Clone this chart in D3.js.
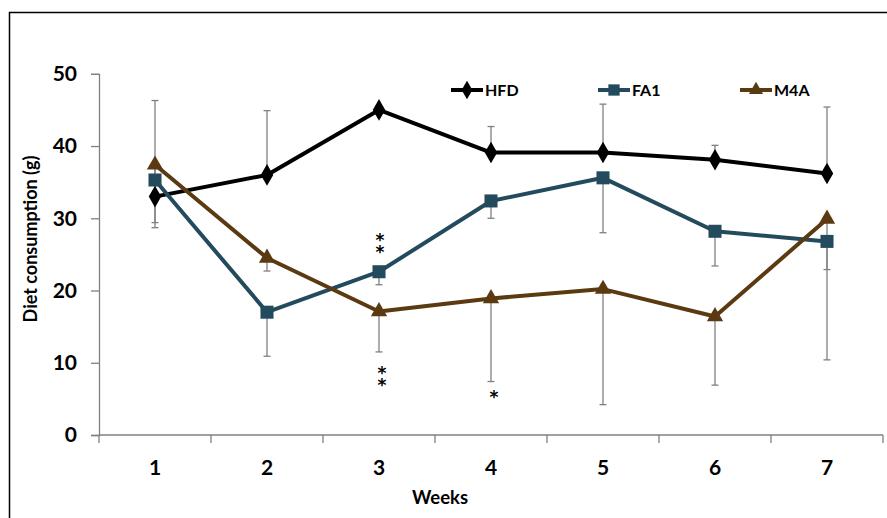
<!DOCTYPE html>
<html>
<head>
<meta charset="utf-8">
<script src="https://cdn.jsdelivr.net/npm/d3@7"></script>
<style>
body { margin: 0; background: #fff; }
text { font-family: Lato, "Open Sans", sans-serif; font-weight: bold; fill: #000; }
</style>
</head>
<body>
<script>
// data
var weeks = ['1', '2', '3', '4', '5', '6', '7'];
var yTicks = [0, 10, 20, 30, 40, 50];

var hfd = [33.0, 36.0, 45.0, 39.1, 39.1, 38.1, 36.2];
var fa1 = [35.3, 17.0, 22.6, 32.4, 35.6, 28.2, 26.8];
var m4a = [37.4, 24.5, 17.1, 18.9, 20.2, 16.4, 29.9];

// one-sided SD bars: HFD up, FA1 and M4A down
var hfdErr = [13.3, 8.9, 0, 3.6, 6.7, 2.0, 9.2];
var fa1Err = [5.9, 6.1, 1.8, 2.4, 7.6, 4.8, 3.9];
var m4aErr = [8.7, 1.8, 5.6, 11.5, 16.0, 9.5, 19.5];

// significance marks
var fa1Sig = [{ week: '3', label: '**' }];
var m4aSig = [{ week: '3', label: '**' }, { week: '4', label: '*' }];

var series = [
  { name: 'HFD', values: hfd, err: hfdErr, dir: 1, color: '#000000', shape: 'diamond' },
  { name: 'FA1', values: fa1, err: fa1Err, dir: -1, color: '#244a5e', shape: 'square' },
  { name: 'M4A', values: m4a, err: m4aErr, dir: -1, color: '#5b3a12', shape: 'triangle' }
];

var W = 887, H = 518;
var svg = d3.select('body').append('svg')
  .attr('width', W).attr('height', H);

// outer frame (cut off at right and bottom like the source)
svg.append('rect')
  .attr('x', 9.5).attr('y', 12.5)
  .attr('width', 900).attr('height', 520)
  .attr('fill', 'none').attr('stroke', '#000').attr('stroke-width', 1.5);

var x = d3.scaleBand().domain(weeks).range([99, 883]);
var y = d3.scaleLinear().domain([0, 50]).range([435, 73.8]);
var axisColor = '#808080';

// y axis
var yAxis = svg.append('g').attr('transform', 'translate(99,0)')
  .call(d3.axisLeft(y).tickValues(yTicks).tickSize(8).tickPadding(14));
yAxis.select('.domain').attr('stroke', axisColor).attr('stroke-width', 1.3);
yAxis.selectAll('.tick line').attr('stroke', axisColor).attr('stroke-width', 1.3);
yAxis.selectAll('.tick text').style('font-size', '21px').attr('fill', '#000');

// x axis, ticks on band edges
var xAxis = svg.append('g').attr('transform', 'translate(0,435)');
xAxis.append('line')
  .attr('x1', 99).attr('x2', 883).attr('y1', 0).attr('y2', 0)
  .attr('stroke', axisColor).attr('stroke-width', 1.3);
var edges = weeks.map(function(w) { return x(w); }).concat([x.range()[1]]);
xAxis.selectAll('.edge').data(edges).enter().append('line')
  .attr('x1', function(d) { return d; }).attr('x2', function(d) { return d; })
  .attr('y1', 0).attr('y2', 8)
  .attr('stroke', axisColor).attr('stroke-width', 1.3);
xAxis.selectAll('.lbl').data(weeks).enter().append('text')
  .attr('x', function(d) { return x(d) + x.bandwidth() / 2; })
  .attr('y', 40)
  .attr('text-anchor', 'middle')
  .style('font-size', '21px')
  .text(function(d) { return d; });

// axis titles
svg.append('text')
  .attr('x', 440).attr('y', 504)
  .attr('text-anchor', 'middle')
  .style('font-size', '18.5px')
  .text('Weeks');
svg.append('text')
  .attr('transform', 'translate(37,239) rotate(-90)')
  .attr('text-anchor', 'middle')
  .style('font-size', '18px')
  .text('Diet consumption (g)');

function cx(i) { return x(weeks[i]) + x.bandwidth() / 2; }

// error bars
var bars = svg.append('g');
series.forEach(function(s) {
  s.values.forEach(function(v, i) {
    if (!s.err[i]) return;
    var end = v + s.dir * s.err[i];
    bars.append('line')
      .attr('x1', cx(i)).attr('x2', cx(i))
      .attr('y1', y(v)).attr('y2', y(end))
      .attr('stroke', axisColor).attr('stroke-width', 1.3);
    bars.append('line')
      .attr('x1', cx(i) - 3.5).attr('x2', cx(i) + 3.5)
      .attr('y1', y(end)).attr('y2', y(end))
      .attr('stroke', axisColor).attr('stroke-width', 1.3);
  });
});

var symbols = { diamond: d3.symbolDiamond, square: d3.symbolSquare, triangle: d3.symbolTriangle };
var sizes = { diamond: 135, square: 170, triangle: 115 };

var line = d3.line()
  .x(function(d, i) { return cx(i); })
  .y(function(d) { return y(d); });

series.forEach(function(s) {
  var g = svg.append('g');
  g.append('path')
    .datum(s.values)
    .attr('d', line)
    .attr('fill', 'none')
    .attr('stroke', s.color)
    .attr('stroke-width', 4)
    .attr('stroke-linejoin', 'round');
  g.selectAll('path.pt').data(s.values).enter().append('path')
    .attr('class', 'pt')
    .attr('transform', function(d, i) { return 'translate(' + cx(i) + ',' + y(d) + ')'; })
    .attr('d', d3.symbol().type(symbols[s.shape]).size(sizes[s.shape]))
    .attr('fill', s.color);
});

// asterisks, stacked vertically in one text; yy is where the stack starts
function stars(xx, yy, label) {
  svg.append('text')
    .attr('x', xx).attr('y', yy)
    .style('writing-mode', 'vertical-rl')
    .style('text-orientation', 'upright')
    .style('letter-spacing', '-8px')
    .style('font-family', '"DejaVu Sans", sans-serif')
    .style('font-size', '17px')
    .text(label);
}
fa1Sig.forEach(function(d) {
  var i = weeks.indexOf(d.week);
  stars(cx(i) + 1, y(fa1[i]) - 42, d.label);
});
m4aSig.forEach(function(d) {
  var i = weeks.indexOf(d.week);
  var cap = y(m4a[i] - m4aErr[i]);
  stars(cx(i) + 3, cap + (d.label.length > 1 ? 11 : 5), d.label);
});

// legend
var legend = svg.append('g');
var legX = [451, 598, 740];
series.forEach(function(s, k) {
  var lx = legX[k], ly = 90;
  legend.append('line')
    .attr('x1', lx).attr('x2', lx + 32).attr('y1', ly).attr('y2', ly)
    .attr('stroke', s.color).attr('stroke-width', 4);
  legend.append('path')
    .attr('transform', 'translate(' + (lx + 16) + ',' + ly + ')')
    .attr('d', d3.symbol().type(symbols[s.shape]).size(sizes[s.shape] * 0.75))
    .attr('fill', s.color);
  legend.append('text')
    .attr('x', lx + 34).attr('y', ly + 6)
    .style('font-size', '16px')
    .text(s.name);
});
</script>
</body>
</html>
